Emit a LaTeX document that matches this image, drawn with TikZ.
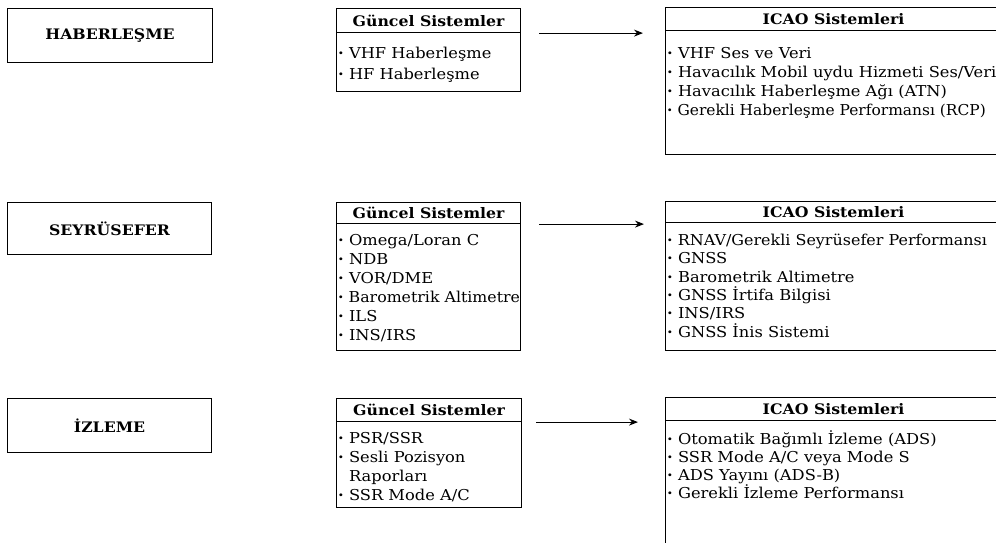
\documentclass[tikz,border=0pt]{standalone}
\usepackage{fontspec}
\setmainfont{DejaVu Serif}[FakeStretch=1.085]
\usetikzlibrary{arrows.meta}
\newcommand{\bul}{\textbf{·}\ }
\newcommand{\fs}{\rule{0pt}{12pt}}
\begin{document}
\begin{tikzpicture}[x=1pt,y=-1pt,
  frame/.style={draw, line width=1.1pt, inner sep=0pt, anchor=north west},
  catbox/.style={frame, font=\bfseries\fontsize{14.5}{17}\selectfont},
  hdr/.style={frame, font=\bfseries\fontsize{14.5}{17}\selectfont},
  body/.style={frame},
  items/.style={anchor=north west, align=left, inner sep=0pt},
  arr/.style={line width=1.1pt, -{Stealth[length=9pt,width=7pt]}}]
\useasboundingbox (0,0) rectangle (996,543);
% category boxes
\node[catbox, minimum width=205pt, minimum height=54pt] (c1) at (7,8) {HABERLEŞME};
\node[catbox, minimum width=204pt, minimum height=52pt] (c2) at (7,202) {SEYRÜSEFER};
\node[catbox, minimum width=204pt, minimum height=54pt] (c3) at (7,398) {İZLEME};
% current systems
\node[hdr, minimum width=184pt, minimum height=24pt] (g1h) at (336,8) {Güncel Sistemler};
\node[body, minimum width=184pt, minimum height=59pt] (g1b) at (336,32) {};
\node[items, font=\fontsize{15}{21.5}\selectfont] (g1t) at (338,46) {\fs\bul VHF Haberleşme\\\bul HF Haberleşme};
\node[hdr, minimum width=184pt, minimum height=21pt] (g2h) at (336,202) {Güncel Sistemler};
\node[body, minimum width=184pt, minimum height=127pt] (g2b) at (336,223) {};
\node[items, font=\fontsize{15}{19}\selectfont] (g2t) at (338,233) {\fs\bul Omega/Loran C\\\bul NDB\\\bul VOR/DME\\\scalebox{0.97}[1]{\bul Barometrik Altimetre}\\\bul ILS\\\bul INS/IRS};
\node[hdr, minimum width=185pt, minimum height=23pt] (g3h) at (336,398) {Güncel Sistemler};
\node[body, minimum width=185pt, minimum height=86pt] (g3b) at (336,421) {};
\node[items, font=\fontsize{15}{19}\selectfont] (g3t) at (338,431) {\fs\bul PSR/SSR\\\bul Sesli Pozisyon\\\phantom{\bul}Raporları\\\bul SSR Mode A/C};
% ICAO systems
\node[hdr, minimum width=336pt, minimum height=23pt] (i1h) at (665,7) {ICAO Sistemleri};
\node[body, minimum width=336pt, minimum height=124pt] (i1b) at (665,30) {};
\node[items, font=\fontsize{15}{19}\selectfont] (i1t) at (667,46) {\fs\bul VHF Ses ve Veri\\\bul Havacılık Mobil uydu Hizmeti Ses/Veri\\\bul Havacılık Haberleşme Ağı (ATN)\\\scalebox{0.95}[1]{\bul Gerekli Haberleşme Performansı (RCP)}};
\node[hdr, minimum width=336pt, minimum height=21pt] (i2h) at (665,201) {ICAO Sistemleri};
\node[body, minimum width=336pt, minimum height=128pt] (i2b) at (665,222) {};
\node[items, font=\fontsize{15}{18.4}\selectfont] (i2t) at (667,233) {\fs\scalebox{0.98}[1]{\bul RNAV/Gerekli Seyrüsefer Performansı}\\\bul GNSS\\\bul Barometrik Altimetre\\\bul GNSS İrtifa Bilgisi\\\bul INS/IRS\\\bul GNSS İnis Sistemi};
\node[hdr, minimum width=336pt, minimum height=23pt] (i3h) at (665,397) {ICAO Sistemleri};
\node[body, minimum width=336pt, minimum height=160pt] (i3b) at (665,420) {};
\node[items, font=\fontsize{15}{18}\selectfont] (i3t) at (667,430) {\fs\bul Otomatik Bağımlı İzleme (ADS)\\\bul SSR Mode A/C veya Mode S\\\bul ADS Yayını (ADS-B)\\\bul Gerekli İzleme Performansı};
% arrows
\draw[arr] ([xshift=18pt]g1h.south east) -- ([xshift=-22pt]i1h.south west |- g1h.south east);
\draw[arr] ([xshift=18pt]g2h.south east) -- ([xshift=-21pt]i2h.south west |- g2h.south east);
\draw[arr] ([xshift=14pt]g3h.south east) -- ([xshift=-27pt]i3h.south west |- g3h.south east);
\end{tikzpicture}
\end{document}
